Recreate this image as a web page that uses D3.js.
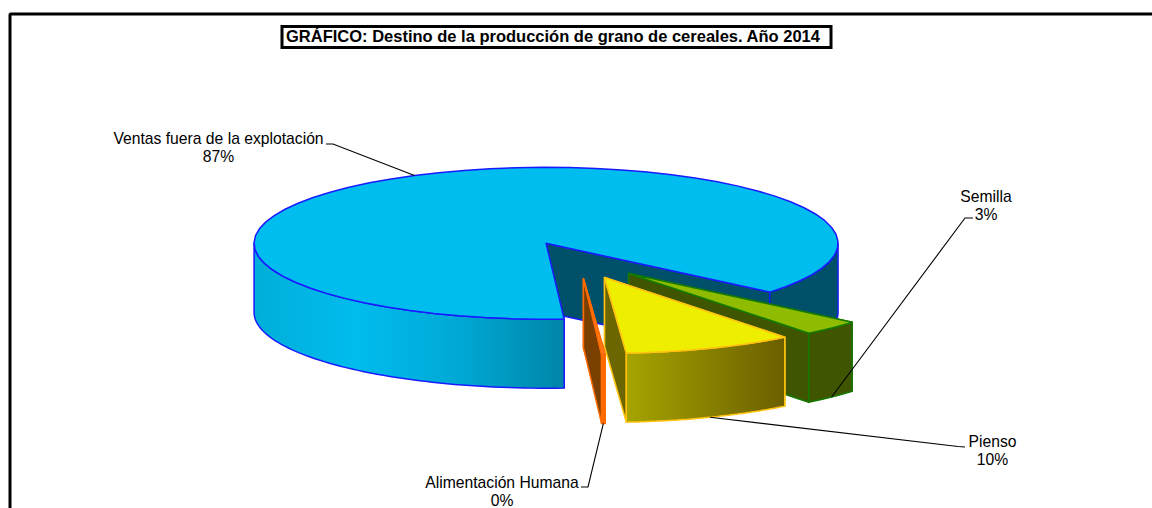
<!DOCTYPE html>
<html>
<head>
<meta charset="utf-8">
<script src="https://cdn.jsdelivr.net/npm/d3@7"></script>
<style>
  html, body { margin: 0; padding: 0; background: #fff; overflow: hidden; }
  svg { display: block; }
  text { font-family: "Liberation Sans", Arial, sans-serif; fill: #000; }
</style>
</head>
<body>
<script>
// values in pie order, clockwise from the cut at lower right
const categories = ['Semilla', 'Pienso', 'Alimentación Humana', 'Ventas fuera de la explotación']
const shares = [3.3, 9.4, 0.2, 87.1]
const percentLabels = ['3%', '10%', '0%', '87%']
const title = 'GRÁFICO: Destino de la producción de grano de cereales. Año 2014'

const topColors = ['#8fbc00', '#eeee00', '#ff7a1a', '#00bdf0']
const strokeColors = ['#157a00', '#ffc20e', '#ff6a00', '#1a1aff']
const cutColors = ['#3f5500', '#6b6600', '#7a4000', '#00506a']
// outer wall shading, left to right
const wallStops = [
  ['#3f5500', '#3f5500'],
  ['#a6a400', '#6b5e00'],
  ['#ff6a00', '#ff6a00'],
  ['#00aed9', '#00bcee', '#00a8d4', '#0085a8'],
]

const width = 1152
const height = 508
const pieCenter = { x: 578.5, y: 260 }
const radius = 292
const tilt = 0.26
const depth = 69
const explode = 72
const startDeg = 130

const svg = d3.select('body').append('svg').attr('width', width).attr('height', height)
const defs = svg.append('defs')

// outer frame runs off the right and bottom of the picture
svg.append('rect')
  .attr('x', 10).attr('y', 14).attr('width', 1200).attr('height', 600).attr('rx', 1)
  .attr('fill', '#fff').attr('stroke', '#000').attr('stroke-width', 3)

// title box
const titleBox = svg.append('g')
titleBox.append('rect')
  .attr('x', 282).attr('y', 26.5).attr('width', 549).attr('height', 21)
  .attr('fill', '#fff').attr('stroke', '#000').attr('stroke-width', 3)
titleBox.append('text')
  .attr('x', 286).attr('y', 42)
  .attr('font-size', 16.5).attr('font-weight', 'bold')
  .text(title)

const arcs = d3.pie().sort(null)
  .startAngle(startDeg * Math.PI / 180)
  .endAngle((startDeg + 360) * Math.PI / 180)(shares)

// each slice slides out along its own middle angle
const origin = (d) => {
  const mid = (d.startAngle + d.endAngle) / 2
  return {
    x: pieCenter.x + explode * Math.sin(mid),
    y: pieCenter.y - explode * tilt * Math.cos(mid),
  }
}

const rim = (o, a, drop = 0) => [
  o.x + radius * Math.sin(a),
  o.y - radius * tilt * Math.cos(a) + drop,
]

const rimLine = d3.line()

const rimPoints = (o, a0, a1, drop) => d3.range(0, 61).map(i => rim(o, a0 + (a1 - a0) * i / 60, drop))

const HALF = Math.PI
const TURN = Math.PI * 2

// parts of the arc that face the viewer (between 90 and 270 degrees)
const frontSpans = (a0, a1) => {
  const spans = []
  for (let k = 0; k < 2; k++) {
    const lo = Math.max(a0, HALF / 2 + k * TURN)
    const hi = Math.min(a1, HALF * 1.5 + k * TURN)
    if (hi > lo) spans.push([lo, hi])
  }
  return spans
}

const drawCut = (g, o, a, i) => {
  const pts = [[o.x, o.y], rim(o, a), rim(o, a, depth), [o.x, o.y + depth]]
  g.append('path')
    .attr('d', rimLine(pts) + 'Z')
    .attr('fill', cutColors[i])
    .attr('stroke', strokeColors[i]).attr('stroke-width', 1.5).attr('stroke-linejoin', 'round')
}

const drawWall = (g, o, span, i, k) => {
  const top = rimPoints(o, span[0], span[1], 0)
  const bottom = rimPoints(o, span[0], span[1], depth).reverse()
  const xs = top.map(p => p[0])
  const id = `wall-${i}-${k}`
  // the far side of the big slice is in shadow, flat colour
  const stops = (i === 3 && span[0] > TURN) ? [cutColors[3], cutColors[3]] : wallStops[i]
  const gradient = defs.append('linearGradient').attr('id', id)
    .attr('gradientUnits', 'userSpaceOnUse')
    .attr('x1', d3.min(xs)).attr('x2', d3.max(xs)).attr('y1', 0).attr('y2', 0)
  stops.forEach((c, n) => {
    gradient.append('stop').attr('offset', n / (stops.length - 1)).attr('stop-color', c)
  })
  g.append('path')
    .attr('d', rimLine(top.concat(bottom)) + 'Z')
    .attr('fill', `url(#${id})`)
    .attr('stroke', strokeColors[i]).attr('stroke-width', 1.5).attr('stroke-linejoin', 'round')
}

const drawTop = (g, o, d, i) => {
  const pts = [[o.x, o.y]].concat(rimPoints(o, d.startAngle, d.endAngle, 0))
  g.append('path')
    .attr('d', rimLine(pts) + 'Z')
    .attr('fill', topColors[i])
    .attr('stroke', strokeColors[i]).attr('stroke-width', 1.5).attr('stroke-linejoin', 'round')
}

// big slice at the back first, then the small ones from the far one forward
const paintOrder = [3, 0, 1, 2]
paintOrder.forEach((i) => {
  const d = arcs[i]
  const o = origin(d)
  const g = svg.append('g').attr('class', 'slice')
  drawCut(g, o, d.startAngle, i)
  drawCut(g, o, d.endAngle, i)
  frontSpans(d.startAngle, d.endAngle).forEach((span, k) => drawWall(g, o, span, i, k))
  drawTop(g, o, d, i)
})

// label block centres and leader elbows
const labelAt = [[986, 196.5], [992.5, 442], [502, 483], [218.5, 138.5]]
const elbows = [
  [[973, 218], [965, 218]],
  [[965, 447], [958, 446.5]],
  [[581, 487], [588, 487]],
  [[326, 144], [333, 144]],
]

const leaders = svg.append('g')
arcs.forEach((d, i) => {
  const o = origin(d)
  const mid = (d.startAngle + d.endAngle) / 2
  const onTop = Math.cos(mid) > 0
  const end = rim(o, mid, onTop ? 0 : depth)
  leaders.append('path')
    .attr('d', rimLine(elbows[i].concat([end])))
    .attr('fill', 'none').attr('stroke', '#000').attr('stroke-width', 1.1)
})

const labels = svg.append('g')
categories.forEach((name, i) => {
  const t = labels.append('text')
    .attr('text-anchor', 'middle').attr('font-size', 15.7)
  t.append('tspan').attr('x', labelAt[i][0]).attr('y', labelAt[i][1] + 5).text(name)
  t.append('tspan').attr('x', labelAt[i][0]).attr('y', labelAt[i][1] + 23).text(percentLabels[i])
})
</script>
</body>
</html>
